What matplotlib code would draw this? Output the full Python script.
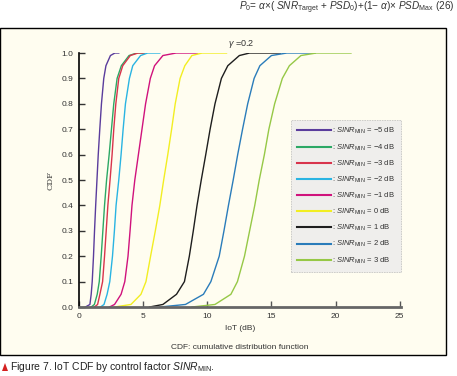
import numpy as np
import matplotlib.pyplot as plt
from matplotlib.patches import Rectangle, Polygon

# CDF levels at which the IoT quantiles were read (last point = end of flat top)
cdf_levels = [0, 0.01, 0.05, 0.1, 0.2, 0.3, 0.4, 0.5, 0.6, 0.7, 0.8, 0.9, 0.95, 0.99, 1.0, 1.0]

# IoT (dB) for each SINR_MIN value
iot_m5 = [0.5, 0.85, 0.95, 1.03, 1.13, 1.21, 1.30, 1.40, 1.50, 1.62, 1.75, 1.93, 2.10, 2.45, 2.8, 3.1]
iot_m4 = [0.95, 1.2, 1.42, 1.58, 1.73, 1.86, 1.99, 2.15, 2.35, 2.53, 2.71, 2.97, 3.3, 3.9, 4.5, 5.1]
iot_m3 = [1.2, 1.45, 1.63, 1.84, 1.99, 2.12, 2.25, 2.42, 2.58, 2.71, 2.87, 3.10, 3.41, 4.0, 4.6, 5.1]
iot_m2 = [1.68, 1.95, 2.19, 2.40, 2.61, 2.76, 2.89, 3.10, 3.28, 3.44, 3.62, 3.93, 4.19, 4.8, 5.35, 6.3]
iot_m1 = [2.38, 2.77, 3.28, 3.57, 3.82, 3.98, 4.13, 4.35, 4.63, 4.91, 5.19, 5.56, 5.89, 6.54, 7.57, 9.25]
iot_0 = [2.77, 4.05, 4.83, 5.22, 5.58, 5.95, 6.3, 6.6, 6.92, 7.22, 7.5, 7.88, 8.25, 8.8, 9.6, 11.5]
iot_p1 = [5.5, 6.54, 7.6, 8.22, 8.6, 8.91, 9.2, 9.53, 9.88, 10.22, 10.6, 11.1, 11.6, 12.5, 13.3, 15.7]
iot_p2 = [6.3, 8.3, 9.7, 10.28, 10.93, 11.3, 11.65, 12.02, 12.37, 12.75, 13.15, 13.65, 14.1, 15.0, 16.2, 18.4]
iot_p3 = [8.8, 10.6, 11.84, 12.35, 12.9, 13.3, 13.7, 14.05, 14.45, 14.8, 15.25, 15.85, 16.4, 17.3, 18.5, 21.2]

sinr_labels = ['\u22125', '\u22124', '\u22123', '\u22122', '\u22121', '0', '1', '2', '3']
series = [iot_m5, iot_m4, iot_m3, iot_m2, iot_m1, iot_0, iot_p1, iot_p2, iot_p3]
colors = ['#5a3c9c', '#2ca865', '#d8344c', '#2ab4e2', '#d0127c', '#f2ee22', '#1e1e1e', '#2a7cba', '#96c846']

x_ticks = [0, 5, 10, 15, 20, 25]
y_ticks = [0.0, 0.1, 0.2, 0.3, 0.4, 0.5, 0.6, 0.7, 0.8, 0.9, 1.0]

plt.rcParams['font.family'] = ['Liberation Sans', 'DejaVu Sans']
plt.rcParams['mathtext.fontset'] = 'custom'
plt.rcParams['mathtext.it'] = 'Liberation Sans:italic'
plt.rcParams['mathtext.rm'] = 'Liberation Sans'

fig = plt.figure(figsize=(4.57, 3.76), dpi=100)
fig.patch.set_facecolor('white')

# cream frame around the figure body
frame = Rectangle((0.001, 1 - 355 / 376), 446 / 457, 327 / 376, transform=fig.transFigure,
                  facecolor='#fffdf0', edgecolor='black', linewidth=1.0, zorder=-10)
fig.patches.append(frame)

ax = fig.add_axes([79 / 457, 1 - 307 / 376, 322 / 457, 254 / 376])
ax.set_facecolor('none')

for vals, lab, c in zip(series, sinr_labels, colors):
    ax.plot(vals, cdf_levels, color=c, linewidth=1.0,
            label=r': $SINR_{\rm MIN}$ = ' + lab + ' dB')

ax.set_xlim(0, 25.1)
ax.set_ylim(0, 1.0)
ax.set_xticks(x_ticks)
ax.set_yticks(y_ticks)
ax.set_xticklabels([str(v) for v in x_ticks])
ax.set_yticklabels(['%.1f' % v for v in y_ticks])
ax.tick_params(direction='in', length=4, width=1.0, labelsize=6, colors='#333333', pad=4)
ax.tick_params(axis='x', color='#555555')
for s in ['top', 'right']:
    ax.spines[s].set_visible(False)
ax.spines['left'].set_color('black')
ax.spines['left'].set_linewidth(1.2)
ax.spines['bottom'].set_color('#666666')
ax.spines['bottom'].set_linewidth(2.0)

ax.set_xlabel('IoT (dB)', fontsize=6, color='#333333', labelpad=4)
ax.set_ylabel('CDF', fontsize=6, color='#333333', family='DejaVu Serif', labelpad=5)
ax.text(0.5, -0.145, 'CDF: cumulative distribution function', transform=ax.transAxes,
        ha='center', va='top', fontsize=6, color='#333333')
ax.text(0.505, 1.01, r'$\gamma$ =0.2', transform=ax.transAxes, ha='center', va='bottom',
        fontsize=6.5, color='#333333')

leg = ax.legend(loc='upper left', bbox_to_anchor=(0.658, 0.736), fontsize=5.5, frameon=True,
                handlelength=4.4, labelspacing=0.78, handletextpad=0.2, borderpad=0.8,
                borderaxespad=0, fancybox=False)
leg.get_frame().set_facecolor('#ebebeb')
leg.get_frame().set_edgecolor('#bbbbbb')
leg.get_frame().set_linewidth(0.6)
leg.get_frame().set_linestyle((0, (2, 1)))
for t in leg.get_texts():
    t.set_color('#333333')
for h in leg.get_lines():
    h.set_linewidth(1.5)

formula = (r'$P_0$= $\alpha$×( $SNR_{\rm Target}$ + $PSD_0$)+(1' + '\u2212' +
           r' $\alpha$)× $PSD_{\rm Max}$ (26)')
fig.text(0.995, 1 - 8 / 376, formula, ha='right', va='center', fontsize=7.2, color='#333333')

tri = Polygon([[2 / 457, 1 - 371 / 376], [8 / 457, 1 - 371 / 376], [5 / 457, 1 - 363 / 376]],
              closed=True, transform=fig.transFigure, facecolor='#d42020', edgecolor='none')
fig.patches.append(tri)
fig.text(10 / 457, 1 - 367 / 376, r'Figure 7. IoT CDF by control factor $SINR_{\rm MIN}$.',
         ha='left', va='center', fontsize=7.5, color='#222222')

fig.savefig('out.png', dpi=100)
